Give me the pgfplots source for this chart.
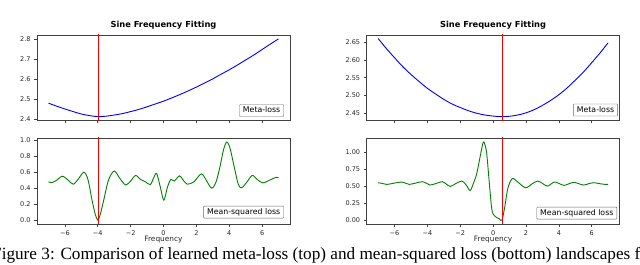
\documentclass[border=0pt]{standalone}
\usepackage{fontspec}
\setmainfont{DejaVu Sans}
\newfontfamily\capfont{Liberation Serif}
\usepackage{pgfplots}
\pgfplotsset{compat=1.18}

\pgfplotstableread{
x y
-7 2.480
-6.5 2.465
-6 2.451
-5.5 2.438
-5 2.426
-4.5 2.418
-4 2.413
-3.5 2.415
-3 2.421
-2.5 2.428
-2 2.438
-1.5 2.449
-1 2.462
-0.5 2.476
0 2.490
0.5 2.506
1 2.523
1.5 2.541
2 2.560
2.5 2.580
3 2.601
3.5 2.624
4 2.646
4.5 2.670
5 2.695
5.5 2.720
6 2.747
6.5 2.774
7 2.800
}\metaleft

\pgfplotstableread{
x y
-7.0 0.48
-6.8 0.47
-6.5 0.50
-6.15 0.55
-5.8 0.50
-5.5 0.45
-5.2 0.51
-4.85 0.60
-4.6 0.51
-4.35 0.25
-4.15 0.07
-4.0 0.0
-3.85 0.07
-3.65 0.24
-3.35 0.50
-3.0 0.615
-2.65 0.52
-2.3 0.44
-2.0 0.49
-1.7 0.56
-1.4 0.51
-1.1 0.48
-0.8 0.445
-0.6 0.53
-0.42 0.585
-0.2 0.42
0.02 0.25
0.25 0.42
0.45 0.51
0.65 0.49
0.98 0.555
1.2 0.50
1.45 0.45
1.85 0.48
2.3 0.58
2.6 0.50
2.93 0.40
3.2 0.48
3.45 0.68
3.65 0.88
3.85 0.98
4.05 0.90
4.3 0.67
4.55 0.45
4.75 0.405
5.05 0.47
5.4 0.56
5.7 0.51
6.05 0.465
6.45 0.50
6.85 0.535
7.0 0.53
}\mseleft

\pgfplotstableread{
x y
-7 2.660
-6.5 2.632
-6 2.606
-5.5 2.581
-5 2.559
-4.5 2.539
-4 2.520
-3.5 2.504
-3 2.489
-2.5 2.476
-2 2.466
-1.5 2.457
-1 2.450
-0.5 2.445
0 2.442
0.5 2.4405
1 2.4415
1.5 2.445
2 2.451
2.5 2.460
3 2.472
3.5 2.486
4 2.502
4.5 2.521
5 2.543
5.5 2.566
6 2.592
6.5 2.619
7 2.648
}\metaright

\pgfplotstableread{
x y
-7.0 0.55
-6.75 0.54
-6.45 0.525
-6.0 0.545
-5.55 0.56
-5.3 0.54
-5.1 0.525
-4.7 0.545
-4.3 0.565
-4.05 0.54
-3.85 0.515
-3.45 0.54
-3.1 0.565
-2.85 0.53
-2.6 0.495
-2.25 0.54
-1.9 0.575
-1.65 0.52
-1.4 0.435
-1.2 0.54
-1.0 0.68
-0.8 0.92
-0.65 1.10
-0.56 1.15
-0.4 1.00
-0.25 0.60
-0.1 0.20
0.0 0.09
0.2 0.04
0.4 0.015
0.54 0.0
0.7 0.18
0.9 0.47
1.17 0.61
1.5 0.56
1.97 0.475
2.35 0.53
2.71 0.575
3.0 0.54
3.31 0.50
3.72 0.56
4.0 0.54
4.32 0.51
4.62 0.535
4.92 0.555
5.22 0.535
5.52 0.515
5.82 0.535
6.13 0.55
6.5 0.535
6.83 0.525
7.0 0.525
}\mseright

\tikzset{
  lbox/.style={draw=black!60, fill=white, rounded corners=0.8pt, inner xsep=3.5pt, inner ysep=2.2pt,
    text height=5.8pt, text depth=1.8pt, font=\fontsize{7.8}{8}\selectfont, anchor=south east},
}
\definecolor{vline}{RGB}{255,0,0}
\pgfplotsset{
  panel/.style={
    scale only axis, width=253pt,
    xmin=-7.7, xmax=7.7,
    axis line style={black!75, line width=0.8pt},
    tick align=outside, tick pos=left,
    major tick length=3pt,
    every tick/.style={black!75, line width=0.6pt},
    tick label style={font=\fontsize{6.5}{7}\selectfont, text=black!85},
    /pgf/number format/assume math mode=true,
    xtick={-6,-4,-2,0,2,4,6},
    clip=true,
  },
  toppanel/.style={panel, height=85.5pt, xticklabels={,,,,,,},
    title={Sine Frequency Fitting},
    title style={at={(axis description cs:0.5,1)}, anchor=base, yshift=1.7pt, inner sep=0pt,
      font=\bfseries\fontsize{8.3}{9}\selectfont}},
  botpanel/.style={panel, height=86pt,
    xticklabels={−6,−4,−2,0,2,4,6},
    xlabel={Frequency},
    xlabel style={at={(axis description cs:0.5,0)}, anchor=base, yshift=-18pt, inner sep=0pt,
      font=\fontsize{7.4}{8}\selectfont, text=black!85}},
}

\begin{document}
\begin{tikzpicture}
\useasboundingbox (0,0) rectangle (640pt,265pt);
\clip (0,0) rectangle (640pt,265pt);

% top-left
\begin{axis}[toppanel, at={(37pt,144.5pt)}, anchor=south west,
  ymin=2.3937, ymax=2.8194,
  ytick={2.4,2.5,2.6,2.7,2.8}, yticklabels={2.4,2.5,2.6,2.7,2.8}]
\addplot[blue, line width=0.9pt, smooth] table[x=x,y=y] {\metaleft};
\addplot[draw=vline, line width=1.2pt] table {
x y
-3.95 2.3
-3.95 2.9
};
\node[lbox] at (rel axis cs:0.976,0.044) {Meta-loss};
\end{axis}

% bottom-left
\begin{axis}[botpanel, at={(37pt,41pt)}, anchor=south west,
  ymin=-0.049, ymax=1.029,
  ytick={0,0.2,0.4,0.6,0.8,1.0}, yticklabels={0.0,0.2,0.4,0.6,0.8,1.0}]
\addplot[green!50!black, line width=0.9pt, smooth, tension=0.5] table[x=x,y=y] {\mseleft};
\addplot[draw=vline, line width=1.2pt] table {
x y
-3.95 -0.2
-3.95 1.2
};
\node[lbox] at (rel axis cs:0.976,0.066) {Mean-squared loss};
\end{axis}

% top-right
\begin{axis}[toppanel, at={(366.6pt,144.5pt)}, anchor=south west,
  ymin=2.4296, ymax=2.6699,
  ytick={2.45,2.50,2.55,2.60,2.65}, yticklabels={2.45,2.50,2.55,2.60,2.65}]
\addplot[blue, line width=0.9pt, smooth] table[x=x,y=y] {\metaright};
\addplot[draw=vline, line width=1.2pt] table {
x y
0.55 2.3
0.55 2.8
};
\node[lbox] at (rel axis cs:0.993,0.05) {Meta-loss};
\end{axis}

% bottom-right
\begin{axis}[botpanel, at={(366.6pt,41pt)}, anchor=south west,
  ymin=-0.0575, ymax=1.2075,
  ytick={0,0.25,0.5,0.75,1.0}, yticklabels={0.00,0.25,0.50,0.75,1.00}]
\addplot[green!50!black, line width=0.9pt, smooth, tension=0.5] table[x=x,y=y] {\mseright};
\addplot[draw=vline, line width=1.2pt] table {
x y
0.55 -0.2
0.55 1.4
};
\node[lbox] at (rel axis cs:0.99,0.055) {Mean-squared loss};
\end{axis}

\node[anchor=base west, inner sep=0pt, font=\capfont\fontsize{17.2}{19}\selectfont] at (-8pt,5.3pt)
  {Figure 3: Comparison of learned meta-loss (top) and mean-squared loss (bottom) landscapes for};
\end{tikzpicture}
\end{document}
